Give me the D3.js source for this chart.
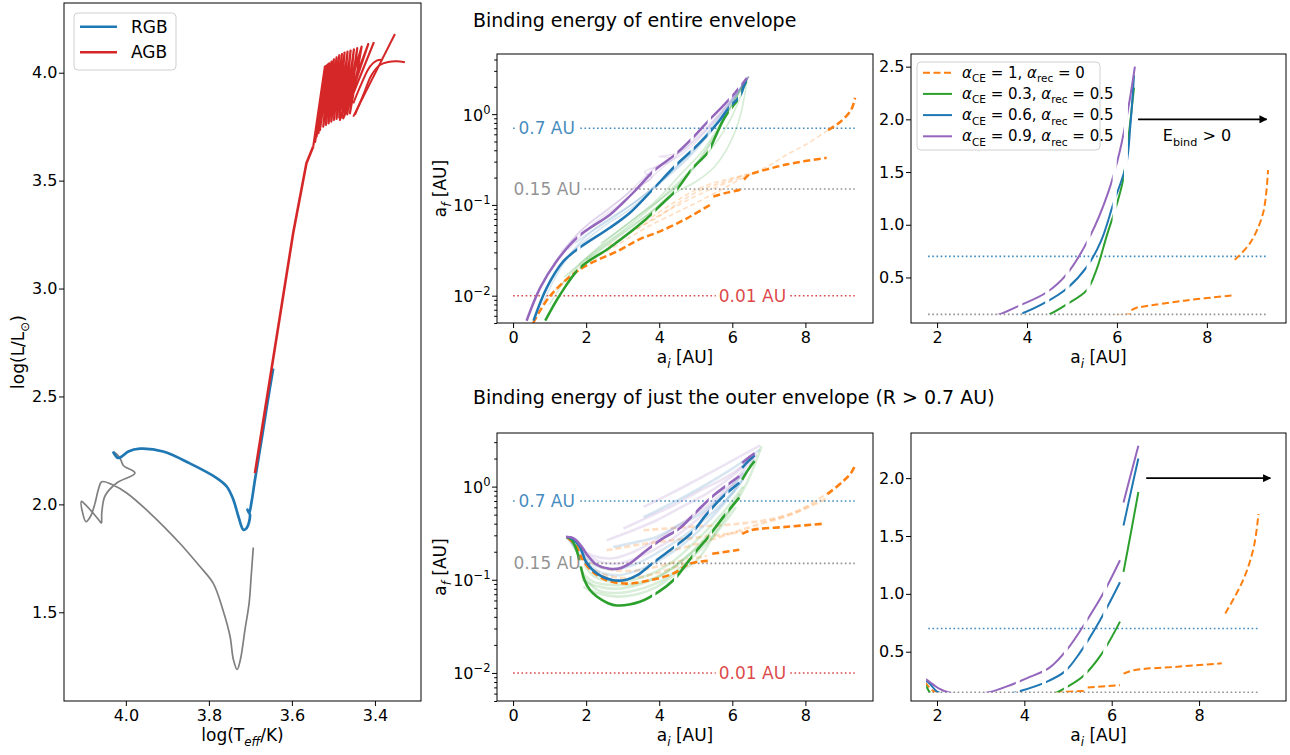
<!DOCTYPE html>
<html><head><meta charset="utf-8">
<script src="https://cdn.jsdelivr.net/npm/d3@7"></script>
<style>body{margin:0;background:#fff}svg text{font-family:"DejaVu Sans",sans-serif}</style>
</head><body>
<script>
// ---------------- DATA ----------------
// HR diagram: [log Teff, log L]
const hrPreTrack = [[3.693,1.80],[3.698,1.67],[3.703,1.544],[3.713,1.42],[3.724,1.281],[3.732,1.235],[3.741,1.281],[3.749,1.389],[3.766,1.51],[3.79,1.636],[3.822,1.713],[3.87,1.82],[3.942,1.96],[3.998,2.053],[4.031,2.09],[4.058,2.105],[4.066,2.07],[4.075,2.00],[4.085,1.945],[4.096,1.92],[4.104,1.96],[4.107,2.014],[4.098,2.0],[4.079,1.96],[4.064,1.925],[4.059,1.914],[4.058,1.96],[4.05,2.04],[4.022,2.099],[3.978,2.145],[4.006,2.18],[4.014,2.215],[4.026,2.24]];
const hrRGB = [[4.031,2.245],[4.019,2.215],[4.01,2.222],[3.994,2.245],[3.966,2.258],[3.91,2.245],[3.846,2.19],[3.781,2.122],[3.757,2.083],[3.741,2.022],[3.729,1.945],[3.717,1.883],[3.709,1.89],[3.701,1.952],[3.707,1.975],[3.703,1.96],[3.697,2.014],[3.689,2.114],[3.673,2.30],[3.659,2.47],[3.645,2.63]];
const hrAGB = [[3.689,2.145],[3.653,2.58],[3.597,3.256],[3.565,3.58],[3.5486,3.6576]];
const hrPulses = [[3.5486,3.6576],[3.5205,4.0279],[3.5440,3.6800],[3.5175,4.0320],[3.5406,3.7039],[3.5149,4.0357],[3.5360,3.7200],[3.5125,4.0400],[3.5325,3.7347],[3.5100,4.0434],[3.5245,3.7502],[3.5044,4.0511],[3.5181,3.7579],[3.4988,4.0619],[3.5116,3.7656],[3.4924,4.0711],[3.5052,3.7733],[3.4860,4.0804],[3.4988,3.7810],[3.4795,4.0866],[3.4924,3.7857],[3.4731,4.0928],[3.4860,3.7918],[3.4659,4.0974],[3.4795,3.7965],[3.4586,4.1020],[3.4731,3.8011],[3.4506,4.1082],[3.4667,3.8073],[3.4426,4.1143],[3.4602,3.8119],[3.4321,4.1205],[3.4843,3.7810],[3.4161,4.1329],[3.4763,3.7888],[3.4024,4.1421]];
const hrLate1 = [[3.4522,3.8582],[3.4321,3.9508],[3.4121,4.0279],[3.3960,4.0557],[3.3840,4.0604]];
const hrLate2 = [[3.4522,3.7965],[3.3518,4.1792]];
const hrLate3 = [[3.4482,3.8042],[3.4281,3.8968],[3.4081,3.9894],[3.3880,4.0357],[3.3679,4.0496],[3.3478,4.0526],[3.3277,4.0480]];
const hrTDomain = [4.149, 3.289];
const hrLDomain = [1.089, 4.323];
const hrTTicks = [4.0, 3.8, 3.6, 3.4];
const hrLTicks = [1.5, 2.0, 2.5, 3.0, 3.5, 4.0];
const hrLegend = ["RGB", "AGB"];

// a_i vs a_f, entire envelope: [a_i, a_f]
const topOrange = [[0.55,0.005],[1.01,0.0099],[1.83,0.0195],[2.93,0.032],[3.47,0.042],[4.02,0.051],[4.57,0.065],[4.93,0.078],[5.39,0.1],null,[5.48,0.124],[5.8,0.135],[6.21,0.147],[6.3,0.152],null,[6.32,0.19],[6.45,0.215],[6.6,0.225],[7.5,0.28],[8.58,0.33],null,[8.62,0.667],[8.96,0.826],[9.25,1.11],[9.36,1.52]];
const topGreen = [[0.88,0.0053],[1.29,0.0103],[1.83,0.0203],[2.65,0.034],[3.57,0.066],[4.1,0.105],[4.47,0.146],[4.9,0.25],[5.33,0.38],[5.55,0.58],[5.77,0.89],[6.0,1.2],[6.14,1.43],[6.25,1.8],[6.38,2.3]];
const topBlue = [[0.56,0.0053],[0.92,0.0122],[1.38,0.024],[1.83,0.034],[2.65,0.056],[3.2,0.082],[3.81,0.146],[4.44,0.27],[4.9,0.4],[5.33,0.6],[5.65,0.85],[5.92,1.2],[6.21,1.58],[6.3,1.95],[6.38,2.42]];
const topPurple = [[0.37,0.0053],[0.74,0.0122],[1.19,0.024],[1.79,0.045],[2.65,0.078],[3.0,0.105],[3.36,0.146],[3.84,0.235],[4.44,0.36],[4.88,0.53],[5.4,0.89],[5.8,1.3],[6.07,1.71],[6.25,2.1],[6.4,2.5]];
const topFaintPurple = [[[1.1,0.022],[1.8,0.05],[2.5,0.085],[3.0,0.12],[3.4,0.17],[3.9,0.26],[4.3,0.33],[4.0,0.34],[4.5,0.37],[5.0,0.52],[5.5,0.82],[6.0,1.4],[6.45,2.6]],[[1.5,0.032],[2.2,0.062],[2.9,0.1],[3.5,0.16],[4.1,0.26],[4.7,0.42],[5.3,0.72],[5.9,1.3],[6.45,2.6]],[[1.3,0.03],[2.0,0.058],[2.7,0.095],[3.3,0.15],[3.8,0.2],[3.6,0.23],[4.3,0.3],[4.9,0.45],[5.6,0.95],[6.45,2.6]]];
const topFaintBlue = [[[0.8,0.008],[1.3,0.02],[2.0,0.045],[2.8,0.075],[3.6,0.13],[4.4,0.25],[5.2,0.55],[5.9,1.3],[6.45,2.6]],[[1.6,0.03],[2.4,0.055],[3.2,0.09],[4.0,0.17],[4.8,0.33],[5.6,0.8],[6.4,2.5]],[[1.7,0.038],[2.5,0.065],[3.3,0.105],[4.1,0.19],[4.9,0.38],[5.7,0.95],[6.4,2.5]]];
const topFaintGreen = [[[1.0,0.008],[1.6,0.018],[2.4,0.032],[3.2,0.055],[4.0,0.1],[4.7,0.2],[5.3,0.42],[5.9,1.1],[6.4,2.4]],[[2.0,0.025],[3.0,0.05],[3.8,0.085],[4.5,0.14],[5.0,0.18],[5.5,0.26],[5.9,0.45],[6.2,0.9],[6.4,2.3]],[[1.8,0.022],[2.6,0.042],[3.4,0.075],[4.2,0.13],[4.9,0.24],[5.5,0.55],[6.1,1.5],[6.45,2.6]],[[1.4,0.016],[2.2,0.03],[3.0,0.052],[3.8,0.095],[4.6,0.19],[5.3,0.36],[5.9,0.8],[6.4,2.4]],[[2.4,0.038],[3.1,0.06],[3.9,0.11],[4.6,0.22],[5.2,0.4],[5.8,0.95],[6.4,2.5]]];
const topFaintOrange = [[[1.0,0.01],[1.8,0.02],[2.8,0.035],[3.6,0.055],[4.4,0.08],[5.0,0.105],[5.6,0.14],[6.3,0.2]],[[2.6,0.035],[3.4,0.055],[4.2,0.085],[5.0,0.125],[5.6,0.16],[6.4,0.21]],[[3.2,0.05],[4.0,0.075],[4.6,0.11],[5.2,0.15],[5.8,0.18],[6.4,0.22]],[[3.6,0.065],[4.3,0.1],[4.9,0.14],[5.5,0.175],[6.4,0.215]],[[6.4,0.21],[7.0,0.27],[7.5,0.36],[8.0,0.46],[8.6,0.66]]];

// a_i vs a_f, outer envelope (R > 0.7 AU)
const botOrange = [[1.5,0.28],[1.7,0.24],[1.92,0.16],[2.2,0.12],[2.56,0.099],[3.11,0.091],[3.75,0.099],[4.39,0.117],[4.84,0.149],[5.39,0.16],null,[5.45,0.19],[6.19,0.21],null,[6.27,0.31],[6.5,0.34],[7.5,0.37],[8.52,0.4],null,[8.6,0.83],[9.01,1.12],[9.25,1.4],[9.36,1.69]];
const botGreen = [[1.45,0.288],[1.6,0.27],[1.74,0.207],[1.85,0.14],[1.95,0.1],[2.1,0.078],[2.29,0.066],[2.6,0.056],[2.84,0.053],[3.47,0.058],[4.0,0.075],[4.4,0.1],[4.7,0.14],[5.0,0.2],[5.35,0.29],[5.75,0.47],[6.19,0.76],null,[6.27,1.19],[6.45,1.55],[6.61,1.88]];
const botBlue = [[1.45,0.288],[1.6,0.28],[1.83,0.225],[2.0,0.155],[2.29,0.117],[2.74,0.099],[3.1,0.1],[3.4,0.112],[3.86,0.155],[4.51,0.24],[4.93,0.33],[5.27,0.49],[5.73,0.77],[6.19,1.1],null,[6.27,1.59],[6.45,1.9],[6.61,2.17]];
const botPurple = [[1.45,0.288],[1.6,0.285],[1.74,0.262],[1.9,0.22],[2.05,0.18],[2.29,0.145],[2.6,0.132],[2.9,0.132],[3.2,0.15],[3.6,0.2],[4.05,0.27],[4.57,0.36],[4.97,0.515],[5.43,0.77],[5.8,1.0],[6.19,1.29],null,[6.27,1.79],[6.45,2.05],[6.61,2.28]];
const botFaintPurple = [[[3.57,0.605],[4.2,0.8],[4.84,1.08],[5.85,1.76],[6.76,2.77]],[[3.02,0.355],[3.7,0.47],[4.39,0.63],[5.1,0.9],[5.85,1.27],[6.67,2.2]],[[2.56,0.266],[3.2,0.33],[3.93,0.435],[4.6,0.6],[5.3,0.84],[6.0,1.3],[6.57,2.08]],[[1.5,0.28],[1.8,0.22],[2.2,0.18],[2.74,0.17],[3.3,0.2],[3.93,0.27],[4.6,0.4],[5.3,0.62],[6.0,1.1],[6.6,2.1]],[[1.5,0.285],[1.9,0.2],[2.4,0.155],[2.9,0.15],[3.5,0.18],[4.2,0.25],[4.9,0.4],[5.6,0.7],[6.3,1.4]]];
const botFaintBlue = [[[3.57,0.47],[4.2,0.62],[4.84,0.84],[5.85,1.43],[6.76,2.5]],[[2.74,0.225],[3.3,0.25],[3.93,0.288],[4.5,0.38],[5.12,0.51],[5.8,0.85],[6.39,1.5]],[[1.5,0.28],[1.9,0.19],[2.3,0.14],[2.8,0.13],[3.4,0.15],[4.0,0.2],[4.7,0.3],[5.4,0.5],[6.1,0.95],[6.6,2.0]],[[1.5,0.285],[1.9,0.17],[2.4,0.12],[2.9,0.112],[3.5,0.13],[4.2,0.18],[4.9,0.29],[5.6,0.55],[6.3,1.2]]];
const botFaintGreen = [[[1.92,0.084],[2.3,0.072],[2.84,0.066],[3.4,0.07],[3.93,0.084],[4.5,0.12],[5.03,0.162],[5.6,0.35],[6.21,0.84]],[[1.9,0.1],[2.3,0.085],[2.84,0.08],[3.5,0.09],[4.2,0.12],[4.9,0.2],[5.5,0.36],[6.0,0.6],[6.4,1.1],[6.8,2.7]],[[1.6,0.26],[1.85,0.17],[2.2,0.11],[2.8,0.095],[3.5,0.105],[4.3,0.15],[5.0,0.26],[5.7,0.5],[6.3,1.0]],[[1.88,0.12],[2.2,0.095],[2.7,0.088],[3.3,0.09],[4.0,0.11],[4.7,0.17],[5.4,0.3]],[[1.9,0.11],[2.3,0.078],[2.8,0.072],[3.4,0.078],[4.1,0.1],[4.8,0.16],[5.5,0.3],[6.1,0.6]]];
const botFaintOrange = [[[3.57,0.34],[4.84,0.37],[6.21,0.4],[7.3,0.47],[8.0,0.6],[8.58,0.84]],[[2.56,0.207],[3.5,0.24],[4.39,0.266],[5.85,0.31],[6.3,0.33]],[[1.9,0.17],[2.6,0.13],[3.3,0.125],[4.0,0.14],[4.6,0.16],[5.3,0.18]],[[4.2,0.2],[5.0,0.24],[5.8,0.3],[6.6,0.38],[7.6,0.5],[8.6,0.75]],[[2.0,0.14],[2.6,0.11],[3.3,0.105],[4.0,0.12],[4.7,0.15]]];

const gapsTop = [1.8, 3.85, 4.45, 4.9, 5.37, 5.95, 6.2];
const gapsBot = [3.85, 4.45, 4.95, 5.4, 5.85];
const refLevels = [0.7, 0.15, 0.01];
const refLabels = ["0.7 AU", "0.15 AU", "0.01 AU"];
const refLabelAi = [0.92, 0.93, 6.55];
const legendLabels = [["1","0"],["0.3","0.5"],["0.6","0.5"],["0.9","0.5"]];
const aiTicksMid = [0, 2, 4, 6, 8];
const aiTicksRight = [2, 4, 6, 8];
const afTicksTopRight = [0.5, 1.0, 1.5, 2.0, 2.5];
const afTicksBotRight = [0.5, 1.0, 1.5, 2.0];
const logMajor = [0.01, 0.1, 1];
const logExp = ["\u22122", "\u22121", "0"];
const titles = ["Binding energy of entire envelope", "Binding energy of just the outer envelope (R > 0.7 AU)"];

// ---------------- DRAW ----------------
const C = {blue:'#1f77b4', orange:'#ff7f0e', green:'#2ca02c', red:'#d62728', purple:'#9467bd', gray:'#7f7f7f'};
const FONT = '"DejaVu Sans", sans-serif';
const svg = d3.select('body').append('svg').attr('width',1290).attr('height',755);
const defs = svg.append('defs');
defs.append('marker').attr('id','arr').attr('viewBox','0 0 10 10').attr('refX',9).attr('refY',5)
  .attr('markerWidth',8).attr('markerHeight',8).attr('markerUnits','userSpaceOnUse').attr('orient','auto')
  .append('path').attr('d','M0,0 L10,5 L0,10 z').attr('fill','#000');
let clipN = 0;
function addClip(rects){
  const id = 'cl'+(clipN++);
  const cp = defs.append('clipPath').attr('id',id);
  rects.forEach(r=>cp.append('rect').attr('x',r[0]).attr('y',r[1]).attr('width',Math.max(0,r[2])).attr('height',Math.max(0,r[3])));
  return `url(#${id})`;
}
function gapRects(x,l,r,t,b,gaps,hw){
  const rects=[]; let cur=l;
  gaps.forEach(g=>{ const a=x(g-hw), c=x(g+hw); if(c<=l||a>=r) return; rects.push([cur,t,a-cur,b-t]); cur=c; });
  rects.push([cur,t,r-cur,b-t]); return rects;
}
function drawPath(g,data,x,y,st){
  const line = d3.line().defined(d=>d!==null).x(d=>x(d[0])).y(d=>y(d[1])).curve(st.curve||d3.curveCatmullRom.alpha(0.5));
  const p = g.append('path').attr('d',line(data)).attr('fill','none').attr('stroke',st.color)
    .attr('stroke-width',st.width).attr('stroke-opacity',st.op==null?1:st.op)
    .attr('stroke-linejoin','round');
  if(st.dash) p.attr('stroke-dasharray',st.dash);
  if(st.clip) p.attr('clip-path',st.clip);
  return p;
}
function styleAxis(a){ a.attr('font-size',16).attr('font-family',FONT); a.select('.domain').remove(); a.selectAll('line').attr('stroke','#000'); a.selectAll('text').attr('fill','#000'); }
function frame(l,r,t,b){ svg.append('rect').attr('x',l).attr('y',t).attr('width',r-l).attr('height',b-t).attr('fill','none').attr('stroke','#000').attr('stroke-width',1); }
function subText(g,x,y,parts,size,anchor){
  const t = g.append('text').attr('x',x).attr('y',y).attr('font-size',size).attr('text-anchor',anchor||'start').attr('fill','#000');
  let shift=0;
  parts.forEach(p=>{
    const s = t.append('tspan').text(p.t);
    const want = p.sub? size*0.3 : (p.sup? -size*0.4 : 0);
    if(want!==shift){ s.attr('dy', want-shift); shift=want; }
    if(p.sub||p.sup) s.attr('font-size', size*0.7);
    if(p.it) s.attr('font-style','italic');
  });
  return t;
}

// ---- HR diagram ----
(function(){
  const l=64,r=421,t=3,b=701;
  const x=d3.scaleLinear().domain(hrTDomain).range([l,r]);
  const y=d3.scaleLinear().domain(hrLDomain).range([b,t]);
  const g=svg.append('g');
  drawPath(g,hrPreTrack,x,y,{color:C.gray,width:1.7});
  drawPath(g,hrRGB,x,y,{color:C.blue,width:2.7});
  drawPath(g,hrAGB,x,y,{color:C.red,width:2.6,curve:d3.curveLinear});
  drawPath(g,hrPulses,x,y,{color:C.red,width:2.2,curve:d3.curveLinear});
  [hrLate1,hrLate2,hrLate3].forEach(d=>drawPath(g,d,x,y,{color:C.red,width:2}));
  frame(l,r,t,b);
  styleAxis(svg.append('g').attr('transform',`translate(0,${b})`).call(d3.axisBottom(x).tickValues(hrTTicks).tickSize(5).tickPadding(3.5).tickFormat(d3.format('.1f'))));
  styleAxis(svg.append('g').attr('transform',`translate(${l},0)`).call(d3.axisLeft(y).tickValues(hrLTicks).tickSize(5).tickPadding(1.5).tickFormat(d3.format('.1f'))));
  subText(svg,(l+r)/2,741,[{t:'log(T'},{t:'eff',sub:true,it:true},{t:'/K)'}],17,'middle');
  const yl = subText(svg,0,0,[{t:'log(L/L'},{t:'\u2299',sub:true},{t:')'}],17,'middle');
  yl.attr('transform',`translate(24,${(t+b)/2}) rotate(-90)`);
  const lg=svg.append('g');
  lg.append('rect').attr('x',74).attr('y',13).attr('width',102).attr('height',57).attr('rx',4).attr('fill','#fff').attr('fill-opacity',0.8).attr('stroke','#d0d0d0');
  [C.blue,C.red].forEach((c,i)=>{
    const yy = 26.7+i*25.6;
    lg.append('line').attr('x1',80).attr('x2',117).attr('y1',yy).attr('y2',yy).attr('stroke',c).attr('stroke-width',2.6);
    lg.append('text').attr('x',131).attr('y',yy+6).attr('font-size',17).text(hrLegend[i]);
  });
})();

// ---- a_i / a_f panels ----
const aiDomainMid = [-0.44, 9.85];
function aiPanel(o){
  const x=d3.scaleLinear().domain(o.xd).range([o.l,o.r]);
  const y=(o.log?d3.scaleLog():d3.scaleLinear()).domain(o.yd).range([o.b,o.t]);
  const g=svg.append('g');
  const cl = o.log? o.l : Math.max(o.l, x(1.75));
  const cb = o.log? o.b : y(0.15);
  const plain = addClip([[cl,o.t,o.r-cl,cb-o.t]]);
  const gapped = addClip(gapRects(x,cl,o.r,o.t,cb,o.gaps,0.045));
  const refCols=[C.blue,C.gray,C.red];
  refLevels.forEach((v,i)=>{
    if(v<o.yd[0]) return;
    g.append('line').attr('x1',x(o.log?0:1.8)).attr('x2',x(9.35)).attr('y1',y(v)).attr('y2',y(v))
      .attr('stroke',refCols[i]).attr('stroke-opacity',0.85).attr('stroke-width',1.6).attr('stroke-dasharray','1.6,2.6');
  });
  o.faint.forEach(f=>f.lines.forEach(ln=>drawPath(g,ln,x,y,{color:f.color,width:o.fw,op:f.op,dash:f.dash,clip:plain})));
  o.main.forEach(m=>drawPath(g,m.data,x,y,{color:m.color,width:o.mw,dash:m.dash,clip:m.dash?plain:gapped}));
  if(o.log){
    refLevels.forEach((v,i)=>{
      const tx = g.append('text').attr('x',x(refLabelAi[i])).attr('y',y(v)+6).attr('text-anchor','middle')
        .attr('font-size',17).attr('fill',refCols[i]).attr('fill-opacity',0.85).text(refLabels[i]);
      const bb = tx.node().getBBox();
      g.insert('rect',()=>tx.node()).attr('x',bb.x-3).attr('y',y(v)-3).attr('width',bb.width+6).attr('height',6).attr('fill','#fff');
    });
  }
  if(o.arrow){
    g.append('line').attr('x1',x(o.arrow[0])).attr('x2',x(o.arrow[1])).attr('y1',y(2.0)).attr('y2',y(2.0))
      .attr('stroke','#000').attr('stroke-width',1.6).attr('marker-end','url(#arr)');
    if(o.arrowText) subText(g,x(7.02),y(1.85)+6,[{t:'E'},{t:'bind',sub:true},{t:' > 0'}],16,'start');
  }
  frame(o.l,o.r,o.t,o.b);
  styleAxis(svg.append('g').attr('transform',`translate(0,${o.b})`).call(d3.axisBottom(x).tickValues(o.xt).tickSize(5).tickPadding(3.5).tickFormat(d3.format('d'))));
  if(o.log){
    const minors=[];
    [0.001,0.01,0.1,1].forEach(dec=>[2,3,4,5,6,7,8,9].forEach(m=>{const v=dec*m; if(v>=o.yd[0]&&v<=o.yd[1]) minors.push(v);}));
    styleAxis(svg.append('g').attr('transform',`translate(${o.l},0)`).call(d3.axisLeft(y).tickValues(minors).tickSize(2.8).tickFormat('')));
    const ax = svg.append('g').attr('transform',`translate(${o.l},0)`).call(d3.axisLeft(y).tickValues(logMajor).tickSize(5).tickPadding(1.5).tickFormat(''));
    styleAxis(ax);
    ax.selectAll('.tick').each(function(d){
      const t = d3.select(this).append('text').attr('x',-6.5).attr('y',6).attr('text-anchor','end').attr('font-size',16).attr('fill','#000');
      t.append('tspan').text('10');
      t.append('tspan').attr('dy',-7).attr('font-size',11.5).text(logExp[logMajor.indexOf(d)]);
    });
    const yl = subText(svg,0,0,[{t:'a'},{t:'f',sub:true,it:true},{t:' [AU]'}],17,'middle');
    yl.attr('transform',`translate(446,${(o.t+o.b)/2}) rotate(-90)`);
  } else {
    styleAxis(svg.append('g').attr('transform',`translate(${o.l},0)`).call(d3.axisLeft(y).tickValues(o.yt).tickSize(5).tickPadding(1.5).tickFormat(d3.format('.1f'))));
  }
  subText(svg,(o.l+o.r)/2,o.b+40,[{t:'a'},{t:'i',sub:true,it:true},{t:' [AU]'}],17,'middle');
  return {x,y,g};
}

const topMain = [{data:topOrange,color:C.orange,dash:'7,3.5'},{data:topGreen,color:C.green},{data:topBlue,color:C.blue},{data:topPurple,color:C.purple}];
const botMain = [{data:botOrange,color:C.orange,dash:'7,3.5'},{data:botGreen,color:C.green},{data:botBlue,color:C.blue},{data:botPurple,color:C.purple}];

aiPanel({l:497,r:873,t:54,b:323,log:true,xd:aiDomainMid,yd:[0.005,4.6],xt:aiTicksMid,gaps:gapsTop,mw:2.5,fw:1.6,
  faint:[{lines:topFaintOrange,color:C.orange,op:0.25,dash:'5,3'},{lines:topFaintGreen,color:C.green,op:0.2},{lines:topFaintBlue,color:C.blue,op:0.18},{lines:topFaintPurple,color:C.purple,op:0.18}],
  main:topMain});
aiPanel({l:911,r:1286,t:54,b:323,log:false,xd:[1.42,9.76],yd:[0.068,2.62],xt:aiTicksRight,yt:afTicksTopRight,gaps:gapsTop,mw:2,fw:1.5,
  faint:[],main:topMain,arrow:[6.47,9.33],arrowText:true});
aiPanel({l:497,r:873,t:433,b:701,log:true,xd:aiDomainMid,yd:[0.005,3.76],xt:aiTicksMid,gaps:gapsBot,mw:2.6,fw:2.6,
  faint:[{lines:botFaintOrange,color:C.orange,op:0.25,dash:'6,3'},{lines:botFaintGreen,color:C.green,op:0.18},{lines:botFaintBlue,color:C.blue,op:0.18},{lines:botFaintPurple,color:C.purple,op:0.18}],
  main:botMain});
aiPanel({l:911,r:1286,t:433,b:701,log:false,xd:[1.405,9.99],yd:[0.074,2.39],xt:aiTicksRight,yt:afTicksBotRight,gaps:gapsBot,mw:2,fw:1.5,
  faint:[],main:botMain,arrow:[6.79,9.63],arrowText:false});

svg.append('text').attr('x',473).attr('y',27).attr('font-size',19).text(titles[0]);
svg.append('text').attr('x',473).attr('y',404).attr('font-size',19).text(titles[1]);

(function(){
  const lg=svg.append('g');
  lg.append('rect').attr('x',917).attr('y',62).attr('width',183).attr('height',88).attr('rx',4).attr('fill','#fff').attr('fill-opacity',0.8).attr('stroke','#d0d0d0');
  const cols=[C.orange,C.green,C.blue,C.purple];
  legendLabels.forEach((lb,i)=>{
    const yy=72.7+i*21.2;
    const ln=lg.append('line').attr('x1',923).attr('x2',952).attr('y1',yy).attr('y2',yy).attr('stroke',cols[i]).attr('stroke-width',2);
    if(i===0) ln.attr('stroke-dasharray','7,3.5');
    subText(lg,962,yy+5,[{t:'\u03b1',it:true},{t:'CE',sub:true},{t:' = '+lb[0]+', '},{t:'\u03b1',it:true},{t:'rec',sub:true},{t:' = '+lb[1]}],15,'start');
  });
})();
</script>
</body></html>
